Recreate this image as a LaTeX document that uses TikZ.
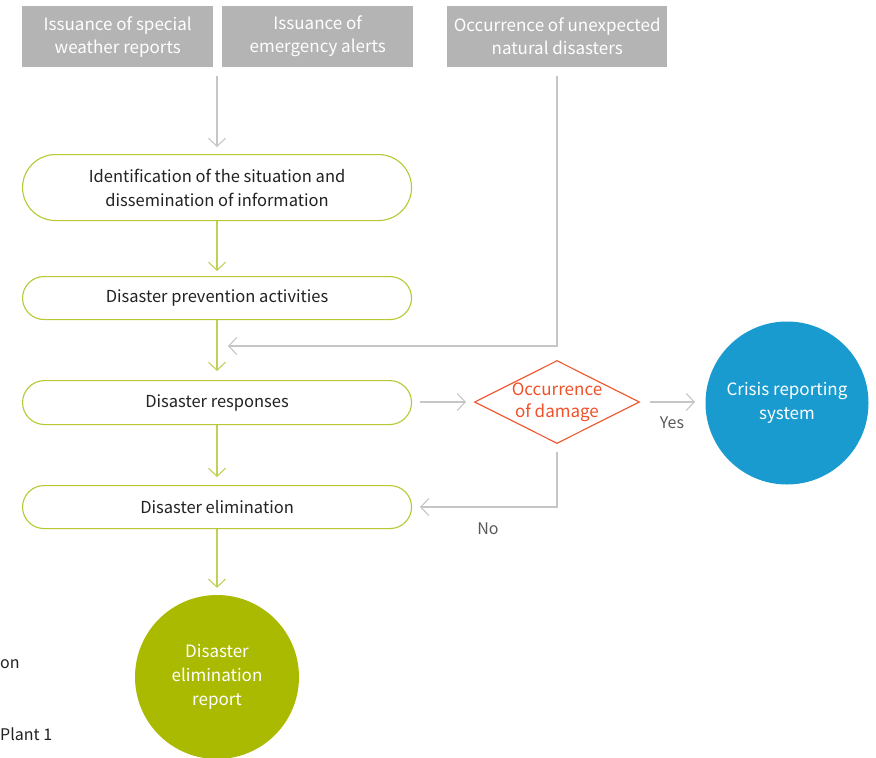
\documentclass[tikz,border=0pt]{standalone}
\usepackage{fontspec}
\setmainfont{Noto Sans CJK KR}
\usetikzlibrary{arrows.meta,shapes.geometric}
\definecolor{boxgray}{HTML}{B4B4B4}
\definecolor{linegray}{HTML}{C6C6C6}
\definecolor{olive}{HTML}{B8C832}
\definecolor{olivearrow}{HTML}{C2D05A}
\definecolor{greencirc}{HTML}{A9BA00}
\definecolor{bluecirc}{HTML}{1A9BCF}
\definecolor{redo}{HTML}{F0502A}
\definecolor{textdark}{HTML}{222222}
\tikzset{
  x=1pt, y=1pt,
  topbox/.style={fill=boxgray, text=white, inner sep=0, anchor=north west, font=\fontsize{17}{23}\selectfont, align=center},
  pill/.style={draw=olive, line width=1.1pt, fill=white, text=textdark, inner sep=0, anchor=north west, font=\fontsize{16.5}{24}\selectfont, align=center},
  garrow/.style={draw=linegray, line width=1.1pt, -{Straight Barb[length=8pt,width=17pt,line width=1.1pt]}},
  oarrow/.style={draw=olivearrow, line width=1.1pt, -{Straight Barb[length=8pt,width=17pt,line width=1.1pt]}},
  circ/.style={circle, inner sep=0, text=white, font=\fontsize{17}{24}\selectfont, align=center},
  lbl/.style={text=textdark!75, font=\fontsize{16}{20}\selectfont, inner sep=0},
  frag/.style={text=textdark, font=\fontsize{16}{20}\selectfont, inner sep=0, anchor=west},
}
\begin{document}
\begin{tikzpicture}
\useasboundingbox (0,0) rectangle (876,-758);
% top gray boxes
\node[topbox, minimum width=191pt, minimum height=61pt] (t1) at (22,-6) {Issuance of special\\weather reports};
\node[topbox, minimum width=191pt, minimum height=61pt] (t2) at (222,-6) {Issuance of\\emergency alerts};
\node[topbox, minimum width=220pt, minimum height=61pt] (t3) at (447,-6) {Occurrence of unexpected\\natural disasters};
% pills
\node[pill, minimum width=389pt, minimum height=66pt, rounded corners=33pt] (p1) at (22,-154) {Identification of the situation and\\dissemination of information};
\node[pill, minimum width=389pt, minimum height=43pt, rounded corners=21.5pt] (p2) at (22,-276) {Disaster prevention activities};
\node[pill, minimum width=389pt, minimum height=44pt, rounded corners=22pt] (p3) at (22,-380) {Disaster responses};
\node[pill, minimum width=389pt, minimum height=43pt, rounded corners=21.5pt] (p4) at (22,-485) {Disaster elimination};
% circles
\node[circ, fill=greencirc, minimum size=164pt] (gc) at (217,-677) {Disaster\\elimination\\report};
\node[circ, fill=bluecirc, minimum size=163pt] (bc) at (787,-403) {Crisis reporting\\system};
% diamond
\node[diamond, draw=redo, line width=1.1pt, aspect=2, minimum width=165pt, minimum height=83pt, inner sep=0] (dm) at (557,-402) {};
\node[text=redo, font=\fontsize{17}{22}\selectfont, align=center, inner sep=0] (dmt) at (557,-402) {Occurrence\\of damage};
% helper coordinates
\coordinate (a0) at (217,-76);
\coordinate (a1) at (217,-147);
\coordinate (s3) at (557,-76);
\coordinate (k3) at (557,-346);
\coordinate (e3) at (228,-346);
\coordinate (r0) at (420,-402);
\coordinate (r1) at (466,-402);
\coordinate (y0) at (650,-402);
\coordinate (y1) at (695,-402);
\coordinate (n0) at (557,-452);
\coordinate (n1) at (557,-507);
\coordinate (n2) at (420,-507);
% connectors
\draw[garrow] (a0) -- (a1);
\draw[oarrow] (p1.south -| a0) -- ([yshift=5pt]p2.north -| a0);
\draw[oarrow] (p2.south -| a0) -- ([yshift=9pt]p3.north -| a0);
\draw[oarrow] (p3.south -| a0) -- ([yshift=8pt]p4.north -| a0);
\draw[oarrow] (p4.south -| a0) -- ([yshift=7pt]gc.north);
\draw[garrow] (s3) -- (k3) -- (e3);
\draw[garrow] (r0) -- (r1);
\draw[garrow] (y0) -- (y1);
\draw[garrow] (n0) -- (n1) -- (n2);
% labels
\node[lbl] (yes) at (672,-423) {Yes};
\node[lbl] (no) at (488,-529) {No};
\node[frag] (frag1) at (0,-664) {on};
\node[frag] (frag2) at (0,-734) {Plant 1};
\end{tikzpicture}
\end{document}
